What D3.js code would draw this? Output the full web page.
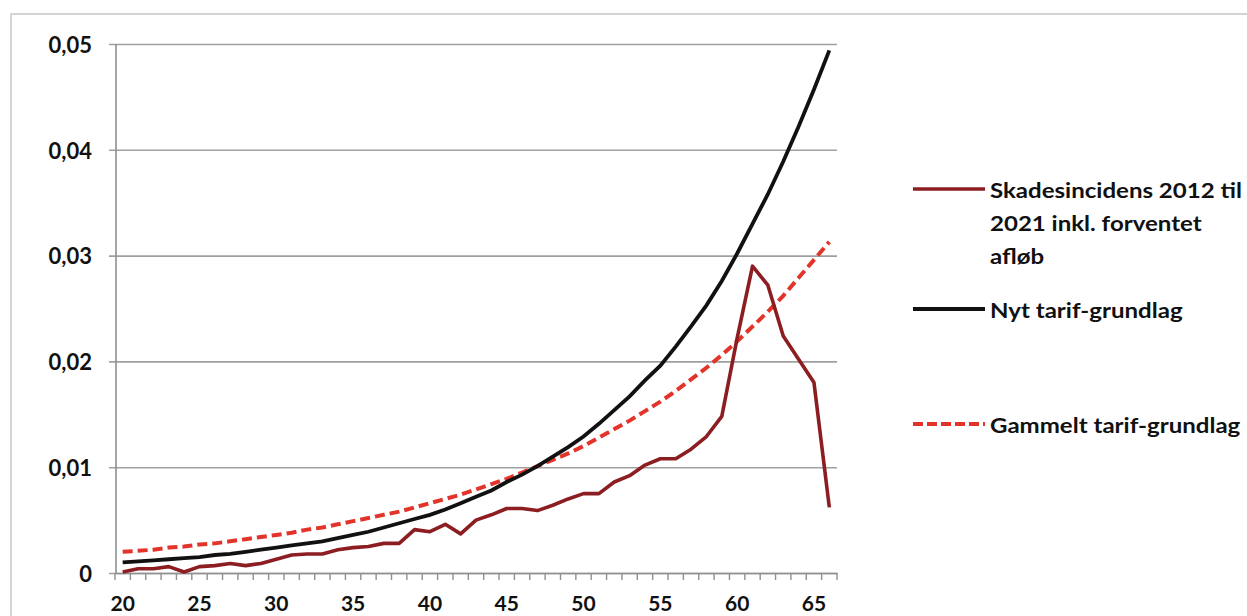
<!DOCTYPE html>
<html><head><meta charset="utf-8">
<script src="https://cdn.jsdelivr.net/npm/d3@7"></script>
<style>
html,body{margin:0;padding:0;background:#fff;overflow:hidden}
svg{display:block}
text{font-family:Lato,"Open Sans",sans-serif;font-weight:700;fill:#111}
</style></head><body>
<svg id="c" width="1247" height="616"></svg>
<script>
const ages = d3.range(20, 67);
const skadesincidens = [0.0001,0.0004,0.0004,0.0006,0.0001,0.0006,0.0007,0.0009,0.0007,0.0009,
  0.0013,0.0017,0.0018,0.0018,0.0022,0.0024,0.0025,0.0028,0.0028,0.0041,
  0.0039,0.0046,0.0037,0.0050,0.0055,0.0061,0.0061,0.0059,0.0064,0.0070,
  0.0075,0.0075,0.0086,0.0092,0.0102,0.0108,0.0108,0.0117,0.0129,0.0148,
  0.0222,0.0290,0.0272,0.0224,0.0202,0.0180,0.0062];
const nytTarif = [0.0010,0.0011,0.0012,0.0013,0.0014,0.0015,0.0017,0.0018,0.0020,0.0022,
  0.0024,0.0026,0.0028,0.0030,0.0033,0.0036,0.0039,0.0043,0.0047,0.0051,
  0.0055,0.0060,0.0066,0.0072,0.0078,0.0086,0.0093,0.0101,0.0110,0.0119,
  0.0129,0.0141,0.0154,0.0167,0.0182,0.0196,0.0214,0.0233,0.0253,0.0276,
  0.0302,0.0330,0.0358,0.0389,0.0422,0.0457,0.0494];
const gammeltTarif = [0.0020,0.0021,0.0022,0.0024,0.0025,0.0027,0.0028,0.0030,0.0032,0.0034,
  0.0036,0.0038,0.0041,0.0043,0.0046,0.0049,0.0052,0.0055,0.0058,0.0062,
  0.0066,0.0070,0.0074,0.0079,0.0084,0.0089,0.0095,0.0101,0.0107,0.0113,
  0.0120,0.0128,0.0136,0.0144,0.0153,0.0162,0.0172,0.0183,0.0194,0.0206,
  0.0219,0.0233,0.0247,0.0262,0.0279,0.0296,0.0313];
const yTickValues = [0,0.01,0.02,0.03,0.04,0.05];
const yTickLabels = ["0","0,01","0,02","0,03","0,04","0,05"];
const xTickLabels = [20,25,30,35,40,45,50,55,60,65];
const seriesNames = ["Skadesincidens 2012 til|2021 inkl. forventet|afløb","Nyt tarif-grundlag","Gammelt tarif-grundlag"];

const svg = d3.select("#c");
const L = 115, R = 837, T = 44, B = 573;
const x = d3.scaleBand().domain(ages).range([L, R]).paddingInner(0).paddingOuter(0);
const y = d3.scaleLinear().domain([0, 0.05]).range([B, T]);
const cx = a => x(a) + x.bandwidth()/2;

// outer frame
svg.append("rect").attr("x",11).attr("y",14).attr("width",1260).attr("height",640)
  .attr("fill","none").attr("stroke","#d4d4d4").attr("stroke-width",2);

// gridlines + y ticks
const gy = svg.append("g").attr("transform",`translate(${L},0)`)
  .call(d3.axisLeft(y).tickValues(yTickValues).tickSize(-(R-L)).tickSizeOuter(0)
    .tickFormat((d,i)=>yTickLabels[i]).tickPadding(23));
gy.select(".domain").remove();
gy.selectAll(".tick line").attr("stroke","#a0a0a0").attr("stroke-width",1.6).attr("x1",-6);
gy.selectAll(".tick text").style("font-size","22px").attr("fill","#111").attr("dy","0.38em");

// y axis line
svg.append("line").attr("x1",L+1).attr("x2",L+1).attr("y1",T).attr("y2",B)
  .attr("stroke","#909090").attr("stroke-width",1.6);

// x axis
const gx = svg.append("g").attr("transform",`translate(0,${B})`)
  .call(d3.axisBottom(x).tickValues(xTickLabels).tickSize(0).tickPadding(23));
gx.select(".domain").attr("stroke","#909090").attr("stroke-width",1.6);
gx.selectAll(".tick text").style("font-size","21px").attr("fill","#111");
// category boundary ticks
const bounds = ages.map(a => x(a)).concat([R]);
svg.append("g").selectAll("line").data(bounds).join("line")
  .attr("x1",d=>d).attr("x2",d=>d).attr("y1",B).attr("y2",B+7)
  .attr("stroke","#909090").attr("stroke-width",1.4);

const line = d3.line().x((d,i)=>cx(ages[i])).y(d=>y(d));

svg.append("path").datum(gammeltTarif).attr("d",line).attr("fill","none")
  .attr("stroke","#e3342b").attr("stroke-width",4).attr("stroke-dasharray","10,5");
svg.append("path").datum(nytTarif).attr("d",line).attr("fill","none")
  .attr("stroke","#111").attr("stroke-width",3.8);
svg.append("path").datum(skadesincidens).attr("d",line).attr("fill","none")
  .attr("stroke","#8c1e22").attr("stroke-width",3.6).attr("stroke-linejoin","round");

// legend
const lg = svg.append("g");
const legendItems = [
  {name: seriesNames[0], color:"#8c1e22", dash:null, y:189, w:3.6},
  {name: seriesNames[1], color:"#111", dash:null, y:309, w:3.8},
  {name: seriesNames[2], color:"#e3342b", dash:"10,4", y:424, w:4}
];
const texts = [];
legendItems.forEach(it => {
  lg.append("line").attr("x1",913).attr("x2",985).attr("y1",it.y).attr("y2",it.y)
    .attr("stroke",it.color).attr("stroke-width",it.w).attr("stroke-dasharray",it.dash);
  const t = lg.append("text").attr("x",0).attr("y",it.y+9).style("font-size","21px");
  it.name.split("|").forEach((s,i)=>{
    t.append("tspan").attr("x",0).attr("dy", i===0?0:33).text(s);
  });
  texts.push(t);
});
// horizontal stretch so the first legend line spans like the reference
const w1 = texts[0].select("tspan").node().getComputedTextLength();
const sx = 252 / w1;
texts.forEach(t => t.attr("transform",`translate(990,0) scale(${sx},1)`));
</script></body></html>
